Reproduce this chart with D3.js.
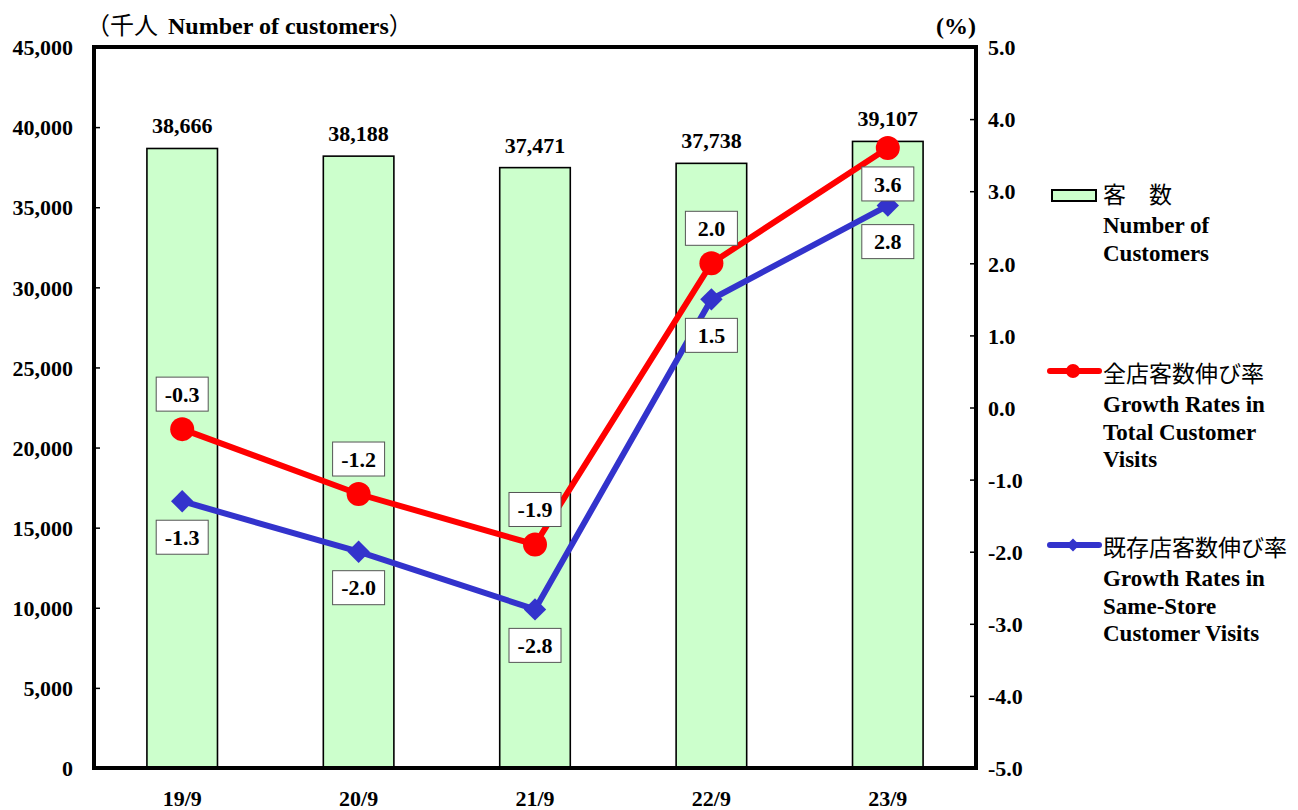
<!DOCTYPE html>
<html>
<head>
<meta charset="utf-8">
<script src="https://cdn.jsdelivr.net/npm/d3@7"></script>
<style>
	body { margin: 0; background: #fff; }
	svg text { font-family: "Liberation Serif", "DejaVu Serif", serif; font-weight: bold; fill: #000; }
	.jp { font-family: "Noto Sans CJK JP", sans-serif; font-weight: normal; }
</style>
</head>
<body>
<div id="chart"></div>
<script>
const categories = ['19/9', '20/9', '21/9', '22/9', '23/9'];
const customers = [38666, 38188, 37471, 37738, 39107];
const totalGrowth = [-0.3, -1.2, -1.9, 2.0, 3.6];
const sameStoreGrowth = [-1.3, -2.0, -2.8, 1.5, 2.8];
// label placement: true = above the point
const totalAbove = [true, true, true, true, false];
const sameAbove = [false, false, false, false, false];
const leftTicks = d3.range(0, 45001, 5000);
const rightTicks = d3.range(-5, 5.01, 1);

const width = 1298, height = 810;
const plot = {left: 94, right: 976, top: 47, bottom: 768};

const svg = d3.select('#chart')
	.append('svg')
	.attr('width', width)
	.attr('height', height);

const x = d3.scaleBand()
	.domain(categories)
	.range([plot.left, plot.right])
	.paddingInner(0.6)
	.paddingOuter(0.3);

const yLeft = d3.scaleLinear().domain([0, 45000]).range([plot.bottom, plot.top]);
const yRight = d3.scaleLinear().domain([-5, 5]).range([plot.bottom, plot.top]);
const cx = c => x(c) + x.bandwidth() / 2;
const fmt1 = d => d3.format('.1f')(d).replace('−', '-');

// bars
svg.append('g')
	.selectAll('rect')
	.data(categories)
	.enter()
	.append('rect')
		.attr('x', c => x(c))
		.attr('y', (c, i) => yLeft(customers[i]))
		.attr('width', x.bandwidth())
		.attr('height', (c, i) => plot.bottom - yLeft(customers[i]))
		.attr('fill', '#CCFFCC')
		.attr('stroke', '#000')
		.attr('stroke-width', 1.6);

svg.append('g')
	.selectAll('text')
	.data(categories)
	.enter()
	.append('text')
		.attr('x', cx)
		.attr('y', (c, i) => yLeft(customers[i]) - 15)
		.attr('text-anchor', 'middle')
		.attr('font-size', 22)
		.text((c, i) => d3.format(',')(customers[i]));

// axes
const leftAxis = svg.append('g')
	.attr('transform', `translate(${plot.left}, 0)`)
	.call(d3.axisLeft(yLeft).tickValues(leftTicks).tickFormat(d3.format(',')).tickSize(-6).tickPadding(21));
const rightAxis = svg.append('g')
	.attr('transform', `translate(${plot.right}, 0)`)
	.call(d3.axisRight(yRight).tickValues(rightTicks).tickFormat(fmt1).tickSize(-6).tickPadding(12));
[leftAxis, rightAxis].forEach(a => {
	a.select('.domain').remove();
	a.selectAll('.tick line').attr('stroke', '#000').attr('stroke-width', 1.5);
	a.selectAll('.tick text').attr('font-size', 22).attr('dy', '0.35em')
		.style('font-family', '"Liberation Serif", serif').style('font-weight', 'bold');
});

svg.append('rect')
	.attr('x', plot.left)
	.attr('y', plot.top)
	.attr('width', plot.right - plot.left)
	.attr('height', plot.bottom - plot.top)
	.attr('fill', 'none')
	.attr('stroke', '#000')
	.attr('stroke-width', 4);

svg.append('g')
	.selectAll('text')
	.data(categories)
	.enter()
	.append('text')
		.attr('x', cx)
		.attr('y', 806)
		.attr('text-anchor', 'middle')
		.attr('font-size', 22)
		.text(c => c);

// lines
const line = d3.line()
	.x((d, i) => cx(categories[i]))
	.y(d => yRight(d));

svg.append('path')
	.datum(totalGrowth)
	.attr('d', line)
	.attr('fill', 'none')
	.attr('stroke', '#FF0000')
	.attr('stroke-width', 6);

svg.append('path')
	.datum(sameStoreGrowth)
	.attr('d', line)
	.attr('fill', 'none')
	.attr('stroke', '#3333CC')
	.attr('stroke-width', 6);

svg.append('g')
	.selectAll('circle')
	.data(totalGrowth)
	.enter()
	.append('circle')
		.attr('cx', (d, i) => cx(categories[i]))
		.attr('cy', d => yRight(d))
		.attr('r', 12)
		.attr('fill', '#FF0000');

const diamond = d3.symbol().type(d3.symbolDiamond2).size(320);
svg.append('g')
	.selectAll('path')
	.data(sameStoreGrowth)
	.enter()
	.append('path')
		.attr('d', diamond)
		.attr('transform', (d, i) => `translate(${cx(categories[i])}, ${yRight(d)})`)
		.attr('fill', '#3333CC');

// value boxes
const addLabels = (values, above) => {
	const g = svg.append('g')
		.selectAll('g')
		.data(values)
		.enter()
		.append('g')
		.attr('transform', (d, i) => `translate(${cx(categories[i])}, ${yRight(d) + (above[i] ? -35 : 36)})`);
	g.append('rect')
		.attr('x', -26)
		.attr('y', -17)
		.attr('width', 52)
		.attr('height', 34)
		.attr('fill', '#fff')
		.attr('stroke', '#555')
		.attr('stroke-width', 1);
	g.append('text')
		.attr('text-anchor', 'middle')
		.attr('dy', '0.35em')
		.attr('font-size', 22)
		.text(fmt1);
};
addLabels(totalGrowth, totalAbove);
addLabels(sameStoreGrowth, sameAbove);

// axis titles
const title = svg.append('text').attr('x', 86).attr('y', 34).attr('font-size', 24);
title.append('tspan').attr('class', 'jp').text('（千人');
title.append('tspan').attr('dx', 10).text('Number of customers');
title.append('tspan').attr('class', 'jp').text('）');

svg.append('text')
	.attr('x', 976)
	.attr('y', 34)
	.attr('text-anchor', 'end')
	.attr('font-size', 24)
	.text('(%)');

// legend
const legend = svg.append('g');
legend.append('rect')
	.attr('x', 1052).attr('y', 190).attr('width', 44).attr('height', 11)
	.attr('fill', '#CCFFCC').attr('stroke', '#000').attr('stroke-width', 2);

const legendText = (y, jp, lines) => {
	legend.append('text').attr('class', 'jp').attr('x', 1103).attr('y', y + 11).attr('font-size', 23).text(jp);
	lines.forEach((t, i) => {
		legend.append('text').attr('x', 1103).attr('y', y + 41 + i * 27.5).attr('font-size', 23).text(t);
	});
};
legendText(192, '客\u3000数', ['Number of', 'Customers']);

legend.append('line')
	.attr('x1', 1050).attr('x2', 1099).attr('y1', 371).attr('y2', 371)
	.attr('stroke', '#FF0000').attr('stroke-width', 6).attr('stroke-linecap', 'round');
legend.append('circle').attr('cx', 1073).attr('cy', 371).attr('r', 7).attr('fill', '#FF0000');
legendText(371, '全店客数伸び率', ['Growth Rates in', 'Total Customer', 'Visits']);

legend.append('line')
	.attr('x1', 1050).attr('x2', 1099).attr('y1', 545).attr('y2', 545)
	.attr('stroke', '#3333CC').attr('stroke-width', 6).attr('stroke-linecap', 'round');
legend.append('path').attr('d', d3.symbol().type(d3.symbolDiamond2).size(110))
	.attr('transform', 'translate(1073, 545)').attr('fill', '#3333CC');
legendText(545, '既存店客数伸び率', ['Growth Rates in', 'Same-Store', 'Customer Visits']);
</script>
</body>
</html>
